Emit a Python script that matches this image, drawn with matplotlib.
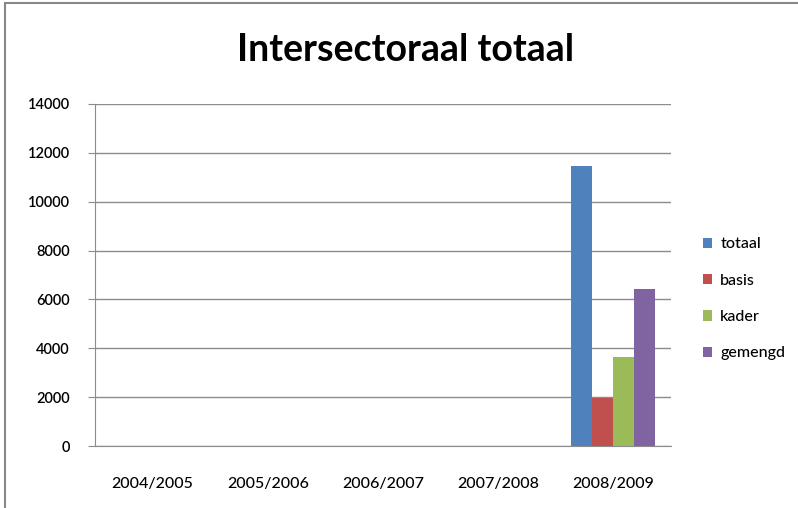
import matplotlib.pyplot as plt
import numpy as np
from matplotlib.patches import Rectangle

# Datos
jaren = ['2004/2005', '2005/2006', '2006/2007', '2007/2008', '2008/2009']
totaal = [0, 0, 0, 0, 11450]
basis = [0, 0, 0, 0, 1950]
kader = [0, 0, 0, 0, 3630]
gemengd = [0, 0, 0, 0, 6420]

reeksen = ['totaal', 'basis', 'kader', 'gemengd']
kleuren = ['#4F81BD', '#C0504D', '#9BBB59', '#8064A2']

fig = plt.figure(figsize=(7.98, 5.08), dpi=100)
ax = fig.add_axes([95/798, 62/508, 576/798, 342/508])

# Rand om de grafiek
fig.patches.append(Rectangle((5/798, -0.05), 1.1, (505/508) + 0.05,
                             transform=fig.transFigure, fill=False,
                             edgecolor='#888888', linewidth=1.5))

x = np.arange(len(jaren))
w = 0.73 / 4
for i, (naam, vals) in enumerate(zip(reeksen, [totaal, basis, kader, gemengd])):
    ax.bar(x + (i - 1.5) * w, vals, width=w, color=kleuren[i], label=naam,
           zorder=3)

ax.set_xlim(-0.5, len(jaren) - 0.5)
ax.set_ylim(0, 14000)
ax.set_yticks(range(0, 14001, 2000))
ax.set_xticks(x)
ax.set_xticklabels(jaren, family='Lato', fontsize=11.5, fontweight='medium')
for lbl in ax.get_yticklabels():
    lbl.set_family('Lato')
    lbl.set_fontweight('semibold')
    lbl.set_fontsize(10.5)
ax.grid(axis='y', color='#8c8c8c', linewidth=1, zorder=0)
ax.tick_params(axis='x', length=0, pad=22)
ax.tick_params(axis='y', length=5, color='#8c8c8c', pad=13)
for s in ['top', 'right']:
    ax.spines[s].set_visible(False)
for s in ['left', 'bottom']:
    ax.spines[s].set_color('#8c8c8c')

fig.text(406/798, 1 - 50/508, 'Intersectoraal totaal', ha='center',
         va='center', family='Lato', fontweight='bold', fontsize=27)

leg = ax.legend(loc='center left', bbox_to_anchor=(1.03, 0.43), frameon=False,
                prop={'family': 'Lato', 'size': 11.5, 'weight': 'medium'},
                handlelength=0.6, handleheight=0.6, labelspacing=1.4,
                handletextpad=0.5)

plt.savefig('out.png', dpi=100)
